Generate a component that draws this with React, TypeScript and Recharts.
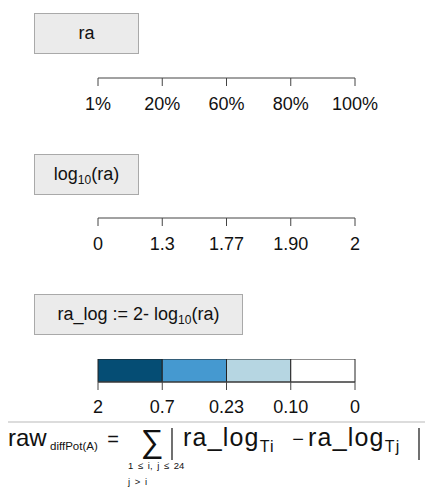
import React from 'react';
import { ComposedChart, BarChart, Bar, XAxis, YAxis } from 'recharts';

// tick labels for each scale (evenly spaced positions)
const raTicks = ['1%', '20%', '60%', '80%', '100%'];
const logTicks = ['0', '1.3', '1.77', '1.90', '2'];
const raLogTicks = ['2', '0.7', '0.23', '0.10', '0'];

// colour bins of the ra_log scale
const binKeys = ['bin1', 'bin2', 'bin3', 'bin4'];
const binWidths = [1, 1, 1, 1];
const binColors = ['#054d74', '#4599d0', '#b6d6e2', '#ffffff'];

const FONT = '"Liberation Sans", Arial, Helvetica, sans-serif';
const AXIS_COLOR = '#444';
const TEXT_COLOR = '#111';

const raData = raTicks.map((label) => ({ label }));
const logData = logTicks.map((label) => ({ label }));
const binRow: Record<string, number | string> = { name: 'ra_log' };
binKeys.forEach((k, i) => {
  binRow[k] = binWidths[i];
});
const binData = [binRow];

const boxStyle = (left: number, top: number, width: number, height: number): React.CSSProperties => ({
  position: 'absolute',
  left,
  top,
  width,
  height,
  boxSizing: 'border-box',
  background: '#ebebeb',
  border: '1px solid #a9a9a9',
  display: 'flex',
  alignItems: 'center',
  justifyContent: 'center',
  fontFamily: FONT,
  fontSize: 18,
  color: TEXT_COLOR,
  whiteSpace: 'nowrap',
});

const sub: React.CSSProperties = { fontSize: 12, position: 'relative', top: 5 };

const tickStyle = { fontSize: 18, fill: TEXT_COLOR, fontFamily: FONT };

const ScaleAxis = ({ data, top }: { data: { label: string }[]; top: number }) => (
  <div style={{ position: 'absolute', left: 0, top }}>
    <ComposedChart width={425} height={60} data={data} margin={{ top: 0, right: 70, bottom: 0, left: 98 }}>
      <YAxis hide />
      <XAxis
        dataKey="label"
        scale="point"
        padding={{ left: 0, right: 0 }}
        height={42}
        interval={0}
        tickSize={8}
        tickMargin={11}
        stroke={AXIS_COLOR}
        tick={tickStyle}
      />
    </ComposedChart>
  </div>
);

export default function App() {
  return (
    <div style={{ position: 'absolute', left: 0, top: 0, width: 425, height: 493, background: '#fff', overflow: 'hidden' }}>
      <div style={boxStyle(34, 13, 105, 41)}>ra</div>
      <ScaleAxis data={raData} top={60} />

      <div style={boxStyle(34, 154, 105, 41)}>
        log<span style={sub}>10</span>(ra)
      </div>
      <ScaleAxis data={logData} top={200} />

      <div style={boxStyle(34, 294, 209, 41)}>
        ra_log := 2- log<span style={sub}>10</span>(ra)
      </div>
      <div style={{ position: 'absolute', left: 0, top: 359 }}>
        <BarChart
          width={425}
          height={65}
          data={binData}
          layout="vertical"
          barCategoryGap={0}
          margin={{ top: 0, right: 70, bottom: 0, left: 98 }}
        >
          <YAxis type="category" dataKey="name" hide />
          <XAxis
            type="number"
            domain={[0, 4]}
            ticks={[0, 1, 2, 3, 4]}
            tickFormatter={(v: number) => raLogTicks[v]}
            height={42}
            interval={0}
            tickSize={8}
            tickMargin={10}
            stroke={AXIS_COLOR}
            tick={tickStyle}
          />
          {binKeys.map((k, i) => (
            <Bar key={k} dataKey={k} stackId="bins" fill={binColors[i]} stroke="#222" strokeWidth={1} isAnimationActive={false} />
          ))}
        </BarChart>
      </div>

      <svg width={425} height={493} style={{ position: 'absolute', left: 0, top: 0, pointerEvents: 'none' }} fontFamily={FONT} fill={TEXT_COLOR}>
        <line x1={8} x2={425} y1={422} y2={422} stroke="#dcdcdc" strokeWidth={2} />
        <text x={8} y={446} fontSize={24}>raw</text>
        <text x={50} y={450} fontSize={11.5}>diffPot(A)</text>
        <text x={113} y={446} fontSize={20} textAnchor="middle">=</text>
        <text x={152} y={452} fontSize={32} textAnchor="middle">∑</text>
        <text x={128} y={469} fontSize={9.5} wordSpacing={2}>1 ≤ i, j ≤ 24</text>
        <text x={128} y={485} fontSize={9.5} wordSpacing={2}>j &gt; i</text>
        <line x1={172} x2={172} y1={428} y2={460} stroke={TEXT_COLOR} strokeWidth={1.2} />
        <text x={183} y={446} fontSize={25} letterSpacing={1.2}>
          ra_log<tspan fontSize={16} dy={6}>Ti</tspan>
        </text>
        <text x={298} y={446} fontSize={20} textAnchor="middle">−</text>
        <text x={308} y={446} fontSize={25} letterSpacing={1.2}>
          ra_log<tspan fontSize={16} dy={6}>Tj</tspan>
        </text>
        <line x1={419} x2={419} y1={428} y2={460} stroke={TEXT_COLOR} strokeWidth={1.2} />
      </svg>
    </div>
  );
}
